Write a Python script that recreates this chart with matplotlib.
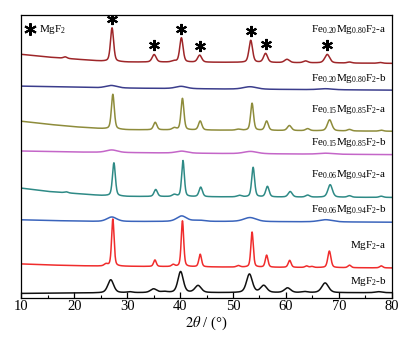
import numpy as np
import matplotlib
matplotlib.use("Agg")
import matplotlib.pyplot as plt
from matplotlib.ticker import MultipleLocator

plt.rcParams["font.family"] = ["Liberation Serif", "DejaVu Serif"]
plt.rcParams["mathtext.fontset"] = "stix"
plt.rcParams["mathtext.default"] = "regular"

# background knots (2theta) shared by all patterns
bg_x = [10, 15, 20, 25, 30, 50, 80]

# Fe0.20Mg0.80F2-a
fe20a_bg = [242.7, 240, 238, 236, 235, 234.7, 233.7]
fe20a_pos = [18.3, 27.15, 35.1, 38.8, 40.25, 43.7, 53.35, 56.15, 60.2, 63.7, 67.8, 72.0, 77.8]
fe20a_hgt = [1.5, 33.5, 7.5, 1.2, 24.3, 7.0, 22.0, 9.0, 3.3, 1.8, 8.5, 1.0, 0.8]
fe20a_wid = [0.8, 0.7, 0.9, 1.0, 0.75, 0.9, 0.8, 0.9, 1.1, 1.0, 1.1, 1.0, 1.0]

# Fe0.20Mg0.80F2-b
fe20b_bg = [211, 210.5, 210, 209.3, 209, 208, 207]
fe20b_pos = [27.0, 40.2, 53.2, 67.5]
fe20b_hgt = [2.5, 2.3, 2.5, 1.0]
fe20b_wid = [2.5, 2.5, 3.0, 3.0]

# Fe0.15Mg0.85F2-a
fe15a_bg = [176, 173, 170.5, 168.7, 167.5, 167, 166]
fe15a_pos = [27.3, 35.3, 38.9, 40.45, 43.8, 51.0, 53.6, 56.35, 60.65, 64.1, 68.25, 72.0, 78.0]
fe15a_hgt = [34.7, 7.5, 2.0, 31.5, 9.0, 1.0, 27.0, 9.3, 5.0, 2.0, 11.0, 1.5, 1.0]
fe15a_wid = [0.65, 0.75, 0.9, 0.65, 0.75, 1.0, 0.65, 0.75, 0.9, 0.9, 1.0, 0.9, 0.9]

# Fe0.15Mg0.85F2-b
fe15b_bg = [146.3, 145.8, 145.3, 145, 144.7, 143.7, 142.7]
fe15b_pos = [27.1, 40.3, 53.3, 67.5]
fe15b_hgt = [2.5, 2.0, 2.3, 1.0]
fe15b_wid = [2.5, 2.5, 3.0, 3.0]

# Fe0.06Mg0.94F2-a
fe06a_bg = [109.3, 106, 104, 102, 101, 100.5, 100]
fe06a_pos = [18.5, 27.5, 35.4, 38.9, 40.55, 43.9, 51.2, 53.8, 56.5, 60.8, 64.1, 68.35, 72.0, 78.0]
fe06a_hgt = [1.0, 33.0, 7.0, 2.0, 36.0, 9.5, 1.5, 29.5, 10.5, 5.5, 2.0, 12.5, 1.5, 1.2]
fe06a_wid = [0.8, 0.65, 0.75, 0.9, 0.6, 0.75, 1.0, 0.65, 0.75, 0.9, 0.9, 1.0, 0.9, 0.9]

# Fe0.06Mg0.94F2-b
fe06b_bg = [77.7, 77, 76.5, 76, 76, 76, 75.3]
fe06b_pos = [27.1, 40.3, 43.5, 53.2, 67.5]
fe06b_hgt = [4.5, 5.5, 1.2, 4.0, 2.2]
fe06b_wid = [2.2, 2.2, 2.5, 2.8, 3.0]

# MgF2-a
mga_bg = [33.7, 32.7, 32, 31.5, 31.3, 30.5, 29.7]
mga_pos = [26.0, 27.3, 35.25, 38.7, 40.45, 43.8, 51.0, 53.6, 56.35, 60.7, 63.9, 64.9, 68.2, 72.0, 78.0]
mga_hgt = [2.0, 47.0, 6.5, 2.0, 45.7, 12.5, 1.5, 35.0, 12.0, 7.0, 1.5, 1.0, 16.5, 2.5, 2.0]
mga_wid = [0.8, 0.55, 0.6, 0.7, 0.55, 0.6, 0.8, 0.55, 0.6, 0.65, 0.7, 0.7, 0.7, 0.7, 0.7]

# MgF2-b
mgb_bg = [4.3, 4.5, 4.7, 4.8, 5, 5, 5]
mgb_pos = [26.9, 30.5, 35.0, 37.0, 40.1, 43.4, 53.1, 55.8, 60.3, 63.5, 67.4, 77.5]
mgb_hgt = [13.0, 0.8, 3.7, 1.0, 21.0, 7.0, 18.5, 7.0, 4.7, 1.0, 9.7, 1.0]
mgb_wid = [1.3, 1.2, 1.4, 1.4, 1.2, 1.4, 1.3, 1.4, 1.4, 1.4, 1.5, 1.5]

labels = [r"Fe$_{0.20}$Mg$_{0.80}$F$_2$-a", r"Fe$_{0.20}$Mg$_{0.80}$F$_2$-b",
          r"Fe$_{0.15}$Mg$_{0.85}$F$_2$-a", r"Fe$_{0.15}$Mg$_{0.85}$F$_2$-b",
          r"Fe$_{0.06}$Mg$_{0.94}$F$_2$-a", r"Fe$_{0.06}$Mg$_{0.94}$F$_2$-b",
          r"MgF$_2$-a", r"MgF$_2$-b"]
colors = ["#9e2629", "#3b3d8c", "#8e8c3b", "#c466c8",
          "#2e8a86", "#3a64bc", "#f02c2c", "#111111"]
label_y = [267, 218.7, 187.7, 154.3, 122.7, 88, 52, 16.3]

# MgF2 reflections marked with asterisks on the top pattern
star_pos = [27.15, 35.1, 40.25, 43.7, 53.35, 56.15, 67.8]

sets = [
    (fe20a_bg, fe20a_pos, fe20a_hgt, fe20a_wid),
    (fe20b_bg, fe20b_pos, fe20b_hgt, fe20b_wid),
    (fe15a_bg, fe15a_pos, fe15a_hgt, fe15a_wid),
    (fe15b_bg, fe15b_pos, fe15b_hgt, fe15b_wid),
    (fe06a_bg, fe06a_pos, fe06a_hgt, fe06a_wid),
    (fe06b_bg, fe06b_pos, fe06b_hgt, fe06b_wid),
    (mga_bg, mga_pos, mga_hgt, mga_wid),
    (mgb_bg, mgb_pos, mgb_hgt, mgb_wid),
]

tt = np.linspace(10, 80, 3501)


def pattern(bg, pos, hgt, wid):
    y = np.interp(tt, bg_x, bg)
    for p, h, w in zip(pos, hgt, wid):
        g = np.exp(-4 * np.log(2) * ((tt - p) / w) ** 2)
        l = 1.0 / (1.0 + 4 * ((tt - p) / w) ** 2)
        y = y + h * (0.6 * g + 0.4 * l)
    return y


fig = plt.figure(figsize=(4.09, 3.47), dpi=100)
ax = fig.add_axes([0.052, 0.142, 0.906, 0.815])

curves = []
for (bg, pos, hgt, wid), c in zip(sets, colors):
    y = pattern(bg, pos, hgt, wid)
    curves.append(y)
    ax.plot(tt, y, color=c, lw=1.1)

for lab, ly in zip(labels, label_y):
    ax.text(79.0, ly, lab, ha="right", va="center", fontsize=8)

top = curves[0]
for p in star_pos:
    ax.plot(p, np.interp(p, tt, top) + 9, marker=(6, 2, 0), ms=8,
            mew=1.5, color="black", ls="none")

ax.plot(11.7, 267.5, marker=(6, 2, 0), ms=9, mew=1.5, color="black")
ax.text(13.3, 267.5, r"MgF$_2$", ha="left", va="center", fontsize=8)

ax.set_xlim(10, 80)
ax.set_ylim(0, 282)
ax.set_yticks([])
ax.xaxis.set_major_locator(MultipleLocator(10))
ax.xaxis.set_minor_locator(MultipleLocator(5))
ax.tick_params(axis="x", which="major", direction="in", length=4, width=0.9,
               labelsize=10.5, pad=1.5)
ax.tick_params(axis="x", which="minor", direction="in", length=2.2, width=0.8)
for s in ax.spines.values():
    s.set_linewidth(0.9)
ax.set_xlabel(r"$\mathit{2\theta}$ / (°)", fontsize=10.5, labelpad=1.5)

fig.savefig("out.png", dpi=100)
